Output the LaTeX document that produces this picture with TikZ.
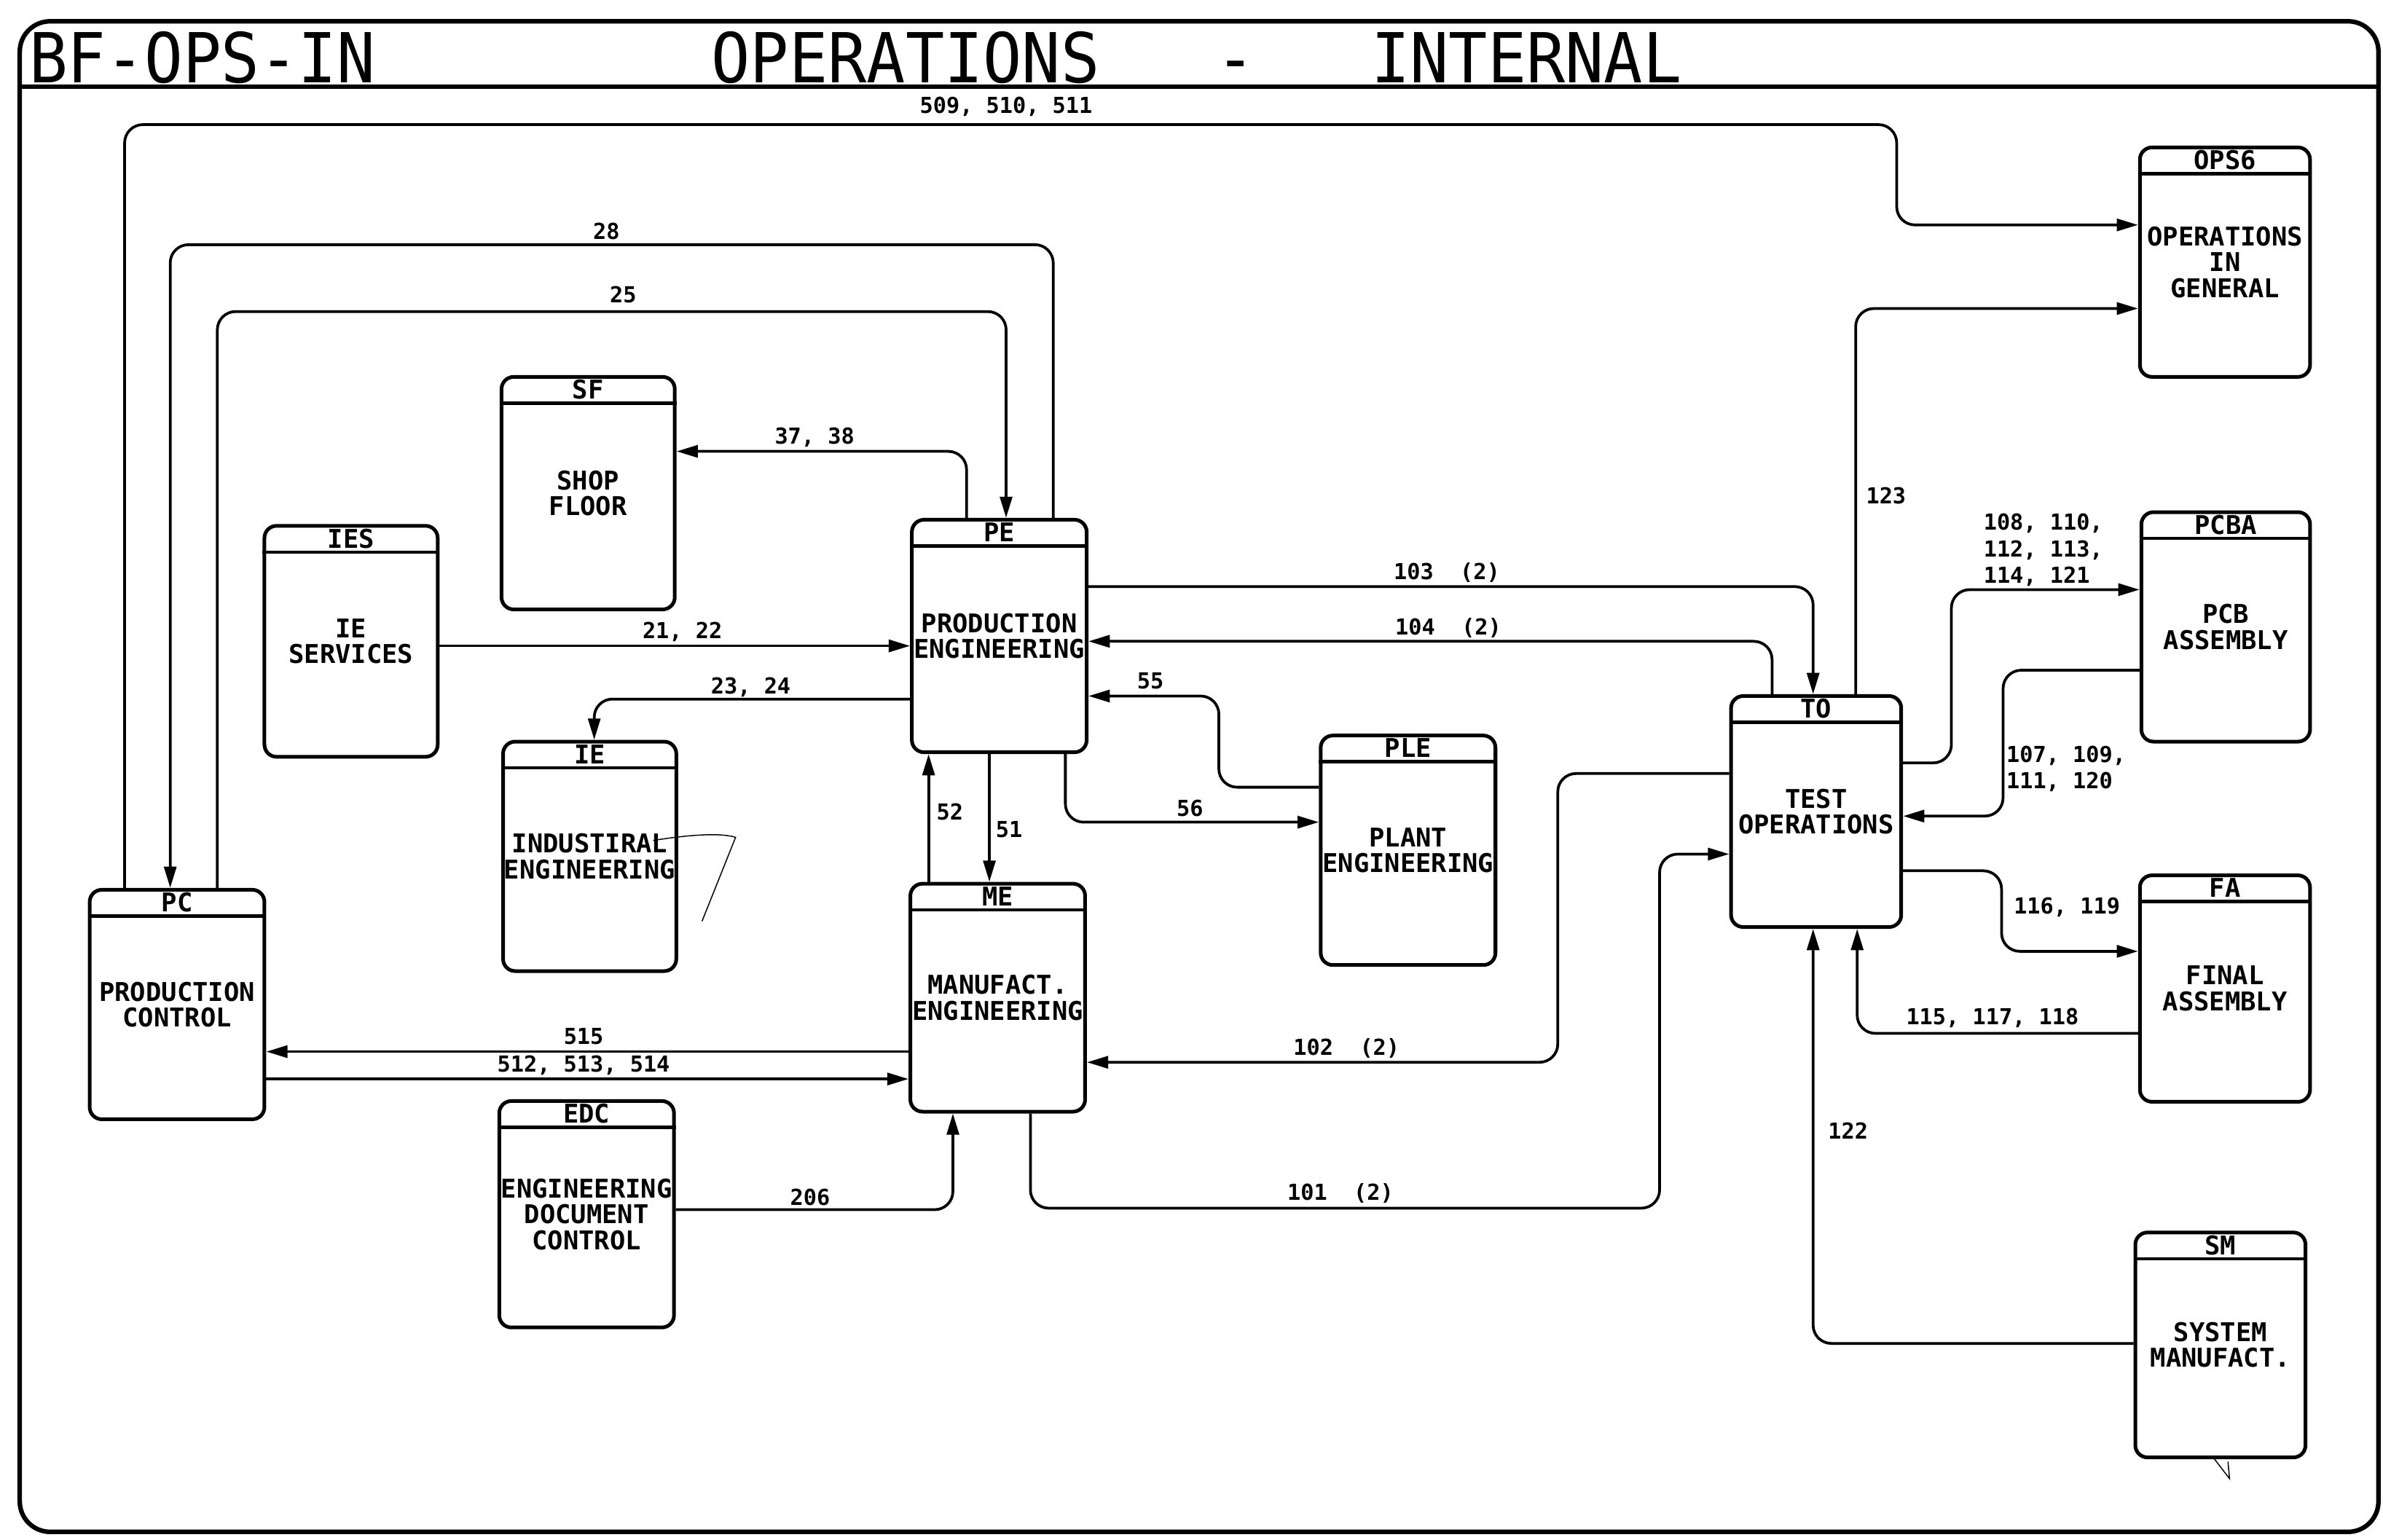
\documentclass[tikz,border=0pt]{standalone}
\usepackage{fontspec}
\newfontfamily\plotfont{DejaVu Sans Mono}
\usetikzlibrary{arrows.meta}
\newcommand\pbfont{\plotfont\bfseries\fontsize{17}{17}\selectfont}
\newcommand\plfont{\plotfont\bfseries\fontsize{14.5}{17.5}\selectfont}
\newcommand\ptfont{\plotfont\fontsize{42}{42}\selectfont}
\tikzset{
  pbox/.style={draw, line width=2.4pt, rounded corners=8pt, inner sep=0pt, align=center, font=\pbfont},
  hdr/.style={line width=2.2pt},
  code/.style={font=\pbfont, inner sep=0pt},
  flow/.style={line width=1.8pt, rounded corners=12pt, -{Triangle[length=14pt,width=8pt]}},
  lbl/.style={font=\plfont, inner sep=0pt, align=center},
  ttl/.style={font=\ptfont, inner sep=0pt, anchor=west},
  frame/.style={line width=3pt},
  scribble/.style={line width=0.7pt, line cap=round},
}
\newcommand\pbox[7]{% name, cx, cy, w, h, code, text
  \node[pbox, minimum width=#4pt, minimum height=#5pt] (#1) at (#2,#3) {#7};
  \draw[hdr] ([yshift=-18.5pt]#1.north west) -- ([yshift=-18.5pt]#1.north east);
  \node[code] (#1-code) at ([yshift=-9.5pt]#1.north) {#6};
}
\begin{document}
\begin{tikzpicture}[x=1pt,y=-1pt]
\useasboundingbox (0,0) rectangle (1568,1013);
% frame and title bar
\draw[frame, rounded corners=20pt] (13,14) rectangle (1565,1008);
\draw[frame] (13,57) -- (1565,57);
\node[ttl] (tid) at (19,38) {\scalebox{1}[1.08]{BF-OPS-IN}};
\node[ttl] (tmain) at (468,38) {\scalebox{1.01}[1.08]{OPERATIONS\ \ \ -\ \ \ INTERNAL}};

% boxes
\pbox{ops6}{1464}{172.5}{112}{151}{OPS6}{OPERATIONS\\IN\\GENERAL}
\pbox{pcba}{1464.5}{412.5}{111}{151}{PCBA}{PCB\\ASSEMBLY}
\pbox{fa}{1464}{650.5}{112}{149}{FA}{FINAL\\ASSEMBLY}
\pbox{sm}{1461}{885}{112}{148}{SM}{SYSTEM\\MANUFACT.}
\pbox{to}{1195}{534}{112}{152}{TO}{TEST\\OPERATIONS}
\pbox{pe}{657.5}{418.5}{115}{153}{PE}{PRODUCTION\\ENGINEERING}
\pbox{ple}{926.5}{559.5}{115}{151}{PLE}{PLANT\\ENGINEERING}
\pbox{me}{656.5}{656.5}{115}{150}{ME}{MANUFACT.\\ENGINEERING}
\pbox{sf}{387}{324.5}{114}{153}{SF}{SHOP\\FLOOR}
\pbox{ies}{231}{422}{114}{152}{IES}{IE\\SERVICES}
\pbox{ie}{388}{563.5}{114}{151}{IE}{INDUSTIRAL\\ENGINEERING}
\pbox{pc}{116.5}{661}{115}{151}{PC}{PRODUCTION\\CONTROL}
\pbox{edc}{386}{799}{115}{149}{EDC}{ENGINEERING\\DOCUMENT\\CONTROL}

% connectors
\draw[flow] (82,0 |- pc.north) -- (82,82) -- (1248,82) -- (1248,148) -- (ops6.west |- 0,148);
\draw[flow] (693,0 |- pe.north) -- (693,161) -- (112,161) -- (112,0 |- pc.north);
\draw[flow] (143,0 |- pc.north) -- (143,205) -- (662,205) -- (662,0 |- pe.north);
\draw[flow] (636,0 |- pe.north) -- (636,297) -- (sf.east |- 0,297);
\draw[flow] (ies.east |- 0,425) -- (pe.west |- 0,425);
\draw[flow] (pe.west |- 0,460) -- (391,460) -- (391,0 |- ie.north);
\draw[flow] (pe.east |- 0,386) -- (1193,386) -- (1193,0 |- to.north);
\draw[flow] (1166,0 |- to.north) -- (1166,422) -- (pe.east |- 0,422);
\draw[flow] (ple.west |- 0,518) -- (802,518) -- (802,458) -- (pe.east |- 0,458);
\draw[flow] (701,0 |- pe.south) -- (701,541) -- (ple.west |- 0,541);
\draw[flow] (611,0 |- me.north) -- (611,0 |- pe.south);
\draw[flow] (651,0 |- pe.south) -- (651,0 |- me.north);
\draw[flow] (me.west |- 0,692) -- (pc.east |- 0,692);
\draw[flow] (pc.east |- 0,710) -- (me.west |- 0,710);
\draw[flow] (edc.east |- 0,796) -- (627,796) -- (627,0 |- me.south);
\draw[flow] (678,0 |- me.south) -- (678,795) -- (1092,795) -- (1092,562) -- (to.west |- 0,562);
\draw[flow] (to.west |- 0,509) -- (1025,509) -- (1025,699) -- (me.east |- 0,699);
\draw[flow] (1221,0 |- to.north) -- (1221,203) -- (ops6.west |- 0,203);
\draw[flow] (to.east |- 0,502) -- (1284,502) -- (1284,388) -- (pcba.west |- 0,388);
\draw[flow] (pcba.west |- 0,441) -- (1318,441) -- (1318,537) -- (to.east |- 0,537);
\draw[flow] (to.east |- 0,573) -- (1317,573) -- (1317,626) -- (fa.west |- 0,626);
\draw[flow] (fa.west |- 0,680) -- (1222,680) -- (1222,0 |- to.south);
\draw[flow] (sm.west |- 0,884) -- (1193,884) -- (1193,0 |- to.south);

% labels
\node[lbl] (l509) at (662,70) {509, 510, 511};
\node[lbl] (l28) at (399,152) {28};
\node[lbl] (l25) at (410,194) {25};
\node[lbl] (l37) at (536,288) {37, 38};
\node[lbl] (l21) at (449,416) {21, 22};
\node[lbl] (l23) at (494,452) {23, 24};
\node[lbl] (l103) at (952,377) {103\ \ (2)};
\node[lbl] (l104) at (953,413) {104\ \ (2)};
\node[lbl] (l55) at (757,448) {55};
\node[lbl] (l56) at (783,532) {56};
\node[lbl] (l52) at (625,534) {52};
\node[lbl] (l51) at (664,546) {51};
\node[lbl] (l515) at (384,682) {515};
\node[lbl] (l512) at (384,701) {512, 513, 514};
\node[lbl] (l206) at (533,788) {206};
\node[lbl] (l101) at (882,785) {101\ \ (2)};
\node[lbl] (l102) at (886,690) {102\ \ (2)};
\node[lbl] (l123) at (1241,326) {123};
\node[lbl, anchor=west, align=left] (l108) at (1305,362) {108, 110,\\112, 113,\\114, 121};
\node[lbl, anchor=west, align=left] (l107) at (1320,506) {107, 109,\\111, 120};
\node[lbl] (l116) at (1360,597) {116, 119};
\node[lbl] (l115) at (1311,670) {115, 117, 118};
\node[lbl] (l122) at (1216,744) {122};

% hand-drawn marks
\draw[scribble] (430,553) .. controls (455,549) and (475,548) .. (484,551) -- (462,606);
\draw[scribble] (1457,960) -- (1467,973) -- (1466,962);
\end{tikzpicture}
\end{document}
